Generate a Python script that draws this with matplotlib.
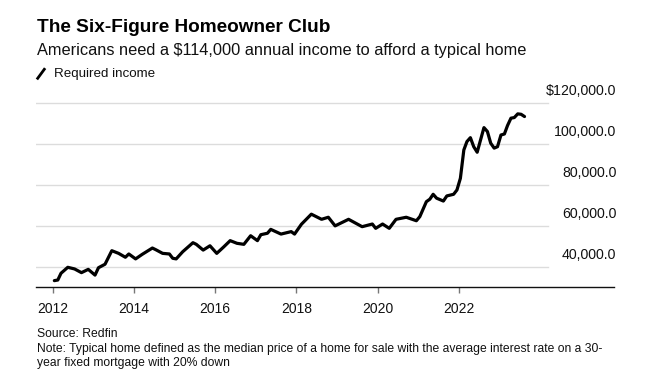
import matplotlib
matplotlib.use("Agg")
import matplotlib.pyplot as plt
import matplotlib.transforms as mtransforms
from matplotlib.lines import Line2D
import pandas as pd

# ---------------- data ----------------
months = [
    "2012-01", "2012-02", "2012-03", "2012-05", "2012-07", "2012-09", "2012-11",
    "2013-01", "2013-02", "2013-04", "2013-06", "2013-08", "2013-10", "2013-11",
    "2014-01", "2014-03", "2014-06", "2014-07", "2014-09", "2014-11", "2014-12",
    "2015-01", "2015-03", "2015-06", "2015-07", "2015-09", "2015-11",
    "2016-01", "2016-03", "2016-05", "2016-07", "2016-09", "2016-11",
    "2017-01", "2017-02", "2017-04", "2017-05", "2017-08", "2017-11", "2017-12",
    "2018-02", "2018-05", "2018-08", "2018-10", "2018-12",
    "2019-04", "2019-08", "2019-11", "2019-12",
    "2020-02", "2020-04", "2020-06", "2020-09", "2020-12",
    "2021-01", "2021-03", "2021-04", "2021-05", "2021-06", "2021-08", "2021-09",
    "2021-11", "2021-12",
    "2022-01", "2022-02", "2022-03", "2022-04", "2022-05", "2022-06", "2022-08",
    "2022-09", "2022-10", "2022-11", "2022-12",
    "2023-01", "2023-02", "2023-03", "2023-04", "2023-05", "2023-06", "2023-07",
    "2023-08",
]
required_income = [
    33500, 33800, 37100, 40000, 39200, 37400, 39000,
    36200, 39800, 41500, 48100, 46800, 44900, 46500,
    44100, 46300, 49400, 48600, 46800, 46500, 44400,
    44100, 47600, 52000, 51200, 48400, 50500,
    46800, 49800, 53000, 51700, 51200, 55400,
    53000, 55900, 56600, 58500, 56200, 57400, 56200,
    61000, 65900, 63400, 64400, 60200,
    63400, 59800, 61100, 59000,
    61100, 59000, 63400, 64400, 62700,
    64700, 72000, 73200, 75600, 73700, 72300, 74800,
    75600, 77700,
    83400, 97200, 101300, 103200, 98800, 96100, 108100,
    106200, 100500, 98100, 98800,
    104500, 105000, 109100, 112700, 113000, 114800, 114600,
    113500,
]
y_ticks = [40000, 60000, 80000, 100000, 120000]
y_tick_labels = ["40,000.0", "60,000.0", "80,000.0", "100,000.0", "$120,000.0"]
x_tick_years = [2012, 2014, 2016, 2018, 2020, 2022]

title = "The Six-Figure Homeowner Club"
subtitle = "Americans need a $114,000 annual income to afford a typical home"
legend_label = "Required income"
source = "Source: Redfin"
note_lines = ["Note: Typical home defined as the median price of a home for sale with the average interest rate on a 30-",
              "year fixed mortgage with 20% down"]

# ---------------- style ----------------
plt.rcParams["font.family"] = ["Liberation Sans", "DejaVu Sans"]

W, H = 651, 379
fig = plt.figure(figsize=(W / 100, H / 100), dpi=100)

def fx(px):
    return px / W

def fy(py):
    return 1 - py / H

ax_left, ax_right, ax_bottom, ax_top = 36, 614, 287, 95
ax = fig.add_axes([fx(ax_left), fy(ax_bottom), fx(ax_right - ax_left), (ax_bottom - ax_top) / H])

dates = pd.to_datetime(months) + pd.Timedelta(days=14)
ax.plot(dates, required_income, color="black", lw=2.3, solid_joinstyle="round",
        solid_capstyle="round", zorder=3)

ax.set_ylim(30400, 124000)
ax.set_xlim(pd.Timestamp("2011-08-03"), pd.Timestamp("2025-10-28"))

grid_xmax = (548 - ax_left) / (ax_right - ax_left)
for v in y_ticks:
    ax.axhline(v, xmin=0, xmax=grid_xmax, color="#dcdcdc", lw=1.0, zorder=1)

ax.set_yticks([])
for s in ["left", "right", "top"]:
    ax.spines[s].set_visible(False)
ax.spines["bottom"].set_color("#111111")
ax.spines["bottom"].set_linewidth(1.0)

ax.set_xticks([pd.Timestamp(f"{y}-01-01") for y in x_tick_years])
ax.set_xticklabels([str(y) for y in x_tick_years], fontsize=10)
ax.tick_params(axis="x", length=4, width=1, color="#777777", pad=6.5, labelcolor="#111111")

trans = mtransforms.blended_transform_factory(ax.transAxes, ax.transData)
trans = mtransforms.offset_copy(trans, fig=fig, x=2.5, y=8.6, units="dots")
for v, lab in zip(y_ticks, y_tick_labels):
    ax.text(1.0, v, lab, transform=trans, ha="right", va="baseline", fontsize=10.2, color="#111111")

# titles
fig.text(fx(37), fy(31.5), title, fontsize=13.7, fontweight="bold", ha="left", va="baseline", color="black")
fig.text(fx(37), fy(55), subtitle, fontsize=11.8, ha="left", va="baseline", color="#111111")

# legend
fig.add_artist(Line2D([fx(37.7), fx(44.3)], [fy(78.3), fy(69.3)], color="black", lw=2,
                      transform=fig.transFigure))
fig.text(fx(54), fy(77.3), legend_label, fontsize=9.6, ha="left", va="baseline", color="#111111")

# footer
fig.text(fx(37), fy(337.3), source, fontsize=8.7, ha="left", va="baseline", color="#111111")
for i, line in enumerate(note_lines):
    fig.text(fx(37), fy(351.7 + 14 * i), line, fontsize=8.7, ha="left", va="baseline", color="#111111")

fig.savefig("out.png", dpi=100)
